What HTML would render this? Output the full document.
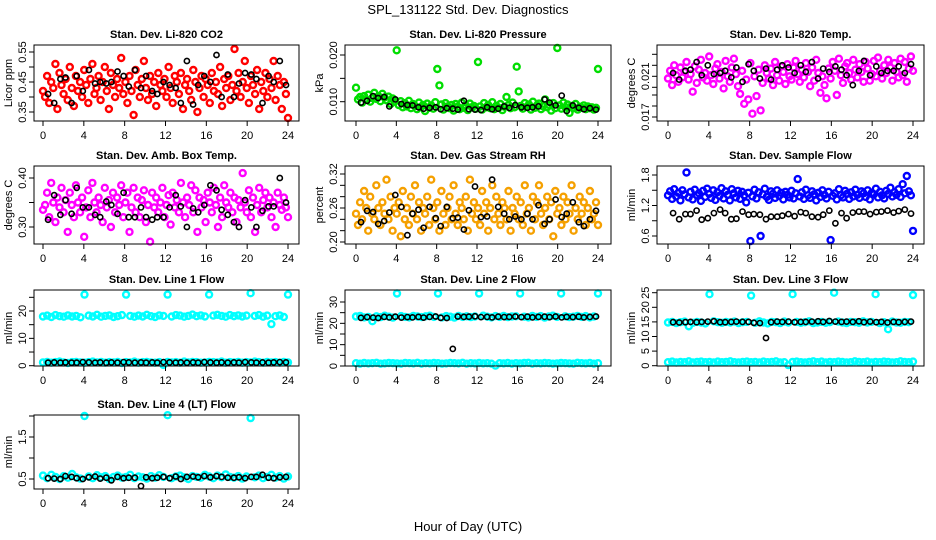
<!DOCTYPE html>
<html><head><meta charset="utf-8"><style>
html,body{margin:0;padding:0;background:#fff;}
svg{display:block;font-family:"Liberation Sans",sans-serif;}
</style></head><body>
<svg id="chart" width="936" height="540" viewBox="0 0 936 540">
<text x="468" y="14" text-anchor="middle" font-size="13">SPL_131122  Std. Dev. Diagnostics</text>
<text x="468" y="531" text-anchor="middle" font-size="13">Hour of Day (UTC)</text>
</svg>
<script>
// ---- data ----
const blackHours=[0.5,1.1,1.7,2.2,2.8,3.3,3.9,4.5,5.1,5.6,6.2,6.7,7.3,7.9,8.4,9.0,9.6,10.1,10.7,11.2,11.8,12.4,13.0,13.5,14.1,14.7,15.2,15.8,16.4,17.0,17.5,18.1,18.7,19.2,19.8,20.4,20.9,21.5,22.1,22.6,23.2,23.8];
const xTicks=[0,4,8,12,16,20,24];

const co2Dense=[0.42,0.40,0.47,0.38,0.45,0.43,0.51,0.36,0.48,0.44,0.41,0.46,0.39,0.50,0.43,0.37,0.47,0.42,0.45,0.40,
0.49,0.44,0.38,0.46,0.51,0.41,0.43,0.47,0.39,0.45,0.50,0.42,0.36,0.48,0.44,0.40,0.46,0.43,0.53,0.41,
0.45,0.38,0.47,0.42,0.34,0.49,0.44,0.40,0.46,0.52,0.43,0.39,0.47,0.41,0.45,0.37,0.48,0.44,0.42,0.46,
0.40,0.50,0.43,0.38,0.47,0.45,0.41,0.48,0.36,0.44,0.46,0.42,0.39,0.49,0.45,0.35,0.43,0.47,0.40,0.46,
0.44,0.38,0.48,0.42,0.45,0.41,0.50,0.37,0.46,0.43,0.47,0.39,0.44,0.56,0.42,0.48,0.40,0.45,0.52,0.43,
0.38,0.47,0.44,0.41,0.49,0.36,0.45,0.42,0.48,0.40,0.46,0.43,0.52,0.39,0.47,0.44,0.36,0.45,0.41,0.33];
const co2Black=[0.41,0.38,0.46,0.465,0.38,0.47,0.42,0.49,0.445,0.45,0.445,0.45,0.485,0.47,0.435,0.49,0.43,0.47,0.42,0.41,0.45,0.44,0.43,0.38,0.52,0.375,0.44,0.47,0.45,0.54,0.40,0.475,0.40,0.445,0.48,0.475,0.46,0.38,0.47,0.45,0.52,0.44];

const presDense=[0.0130,0.0105,0.0110,0.0098,0.0112,0.0104,0.0115,0.0100,0.0108,0.0119,0.0106,0.0112,0.0101,0.0117,0.0109,0.0103,0.0111,0.0095,0.0107,0.0100,
0.0210,0.0093,0.0101,0.0088,0.0097,0.0090,0.0102,0.0086,0.0095,0.0091,0.0084,0.0098,0.0089,0.0093,0.0080,0.0096,0.0087,0.0092,0.0085,0.0099,
0.0170,0.0135,0.0094,0.0083,0.0097,0.0090,0.0086,0.0093,0.0081,0.0095,0.0089,0.0084,0.0098,0.0087,0.0092,0.0082,0.0096,0.0088,0.0091,0.0085,
0.0185,0.0090,0.0083,0.0097,0.0088,0.0093,0.0086,0.0099,0.0084,0.0091,0.0087,0.0095,0.0082,0.0089,0.0110,0.0093,0.0086,0.0098,0.0088,0.0175,
0.0122,0.0091,0.0085,0.0097,0.0089,0.0094,0.0083,0.0100,0.0087,0.0092,0.0096,0.0084,0.0090,0.0105,0.0088,0.0093,0.0081,0.0097,0.0086,0.0215,
0.0092,0.0085,0.0098,0.0088,0.0094,0.0076,0.0091,0.0086,0.0095,0.0083,0.0089,0.0087,0.0092,0.0084,0.0090,0.0086,0.0088,0.0083,0.0087,0.0170];
const presBlack=[0.0098,0.0102,0.0112,0.0108,0.0110,0.0090,0.0105,0.0095,0.0093,0.0092,0.0088,0.0085,0.0087,0.0088,0.0084,0.0086,0.0085,0.0083,0.0102,0.0084,0.0083,0.0082,0.0088,0.0084,0.0085,0.0090,0.0087,0.0093,0.0088,0.0087,0.0088,0.0090,0.0105,0.0098,0.0092,0.0113,0.0080,0.0092,0.0087,0.0084,0.0086,0.0083];

// Li-820 temperature in units of 0.001 degC
const tempDense=[20.8,21.5,20.2,22.0,21.1,20.5,21.8,20.9,21.4,22.3,20.7,21.2,19.6,21.9,20.4,21.6,22.5,20.9,21.3,20.6,
22.8,21.1,20.3,21.7,22.1,20.8,21.4,19.9,22.4,21.0,20.5,21.8,22.6,21.2,20.1,19.4,21.5,18.5,20.7,18.9,
22.2,17.6,21.0,19.2,21.6,17.9,20.4,22.0,21.3,20.8,21.7,20.2,22.3,21.1,20.6,21.9,21.4,20.3,22.1,21.0,
20.7,21.8,22.4,21.2,20.5,21.6,20.9,22.2,21.4,20.1,21.8,20.6,22.5,21.3,19.5,21.0,20.2,19.0,21.7,20.8,
22.3,21.5,19.3,22.6,21.1,20.4,21.9,22.2,21.3,20.7,22.5,21.6,20.9,22.1,21.4,20.5,22.3,21.7,20.6,21.2,
22.4,21.0,22.7,21.5,20.8,22.0,21.3,22.5,21.8,20.6,22.2,21.4,20.9,22.6,21.1,22.3,20.5,21.7,22.8,21.5];
const tempBlack=[21.3,20.7,21.5,21.6,22.3,21.1,22.0,21.2,21.3,21.5,20.9,21.8,20.5,22.1,21.5,20.8,21.7,20.7,21.6,22.0,21.8,21.3,22.0,21.4,22.3,20.8,21.7,21.4,21.9,21.6,21.1,20.2,21.5,22.4,21.1,21.9,21.3,21.5,21.5,21.9,21.3,22.1];

const ambDense=[0.335,0.345,0.37,0.32,0.39,0.35,0.31,0.36,0.34,0.38,0.33,0.355,0.29,0.37,0.345,0.32,0.385,0.35,0.33,0.36,
0.28,0.34,0.375,0.32,0.39,0.35,0.33,0.36,0.345,0.31,0.38,0.34,0.355,0.30,0.37,0.33,0.36,0.345,0.385,0.32,
0.35,0.37,0.29,0.34,0.38,0.33,0.36,0.32,0.355,0.375,0.31,0.345,0.27,0.37,0.34,0.36,0.33,0.35,0.38,0.32,
0.345,0.365,0.305,0.37,0.34,0.355,0.33,0.39,0.35,0.32,0.36,0.345,0.385,0.33,0.375,0.29,0.36,0.34,0.355,0.31,
0.37,0.35,0.33,0.38,0.345,0.30,0.36,0.32,0.385,0.35,0.34,0.37,0.33,0.36,0.31,0.355,0.34,0.41,0.35,0.33,
0.375,0.32,0.36,0.29,0.345,0.38,0.33,0.355,0.37,0.34,0.36,0.32,0.35,0.30,0.37,0.345,0.335,0.36,0.34,0.32];
const ambBlack=[0.315,0.365,0.325,0.355,0.327,0.38,0.34,0.34,0.325,0.32,0.352,0.345,0.327,0.37,0.32,0.32,0.34,0.32,0.315,0.32,0.32,0.34,0.365,0.342,0.30,0.338,0.33,0.345,0.385,0.375,0.335,0.325,0.31,0.30,0.355,0.34,0.30,0.333,0.342,0.342,0.40,0.35];

const rhDense=[0.25,0.23,0.27,0.24,0.29,0.26,0.22,0.28,0.25,0.24,0.30,0.26,0.23,0.27,0.25,0.31,0.24,0.28,0.22,0.26,
0.25,0.27,0.21,0.29,0.24,0.26,0.23,0.28,0.25,0.30,0.24,0.27,0.22,0.26,0.25,0.28,0.23,0.31,0.26,0.24,
0.27,0.22,0.29,0.25,0.23,0.26,0.28,0.24,0.30,0.25,0.23,0.27,0.26,0.24,0.28,0.22,0.31,0.25,0.27,0.24,
0.26,0.23,0.29,0.25,0.27,0.22,0.26,0.30,0.24,0.28,0.25,0.23,0.27,0.26,0.24,0.29,0.22,0.26,0.25,0.28,
0.24,0.27,0.23,0.30,0.25,0.26,0.22,0.28,0.24,0.27,0.30,0.25,0.23,0.26,0.28,0.24,0.27,0.21,0.29,0.25,
0.26,0.23,0.28,0.24,0.27,0.25,0.30,0.22,0.26,0.24,0.28,0.25,0.27,0.23,0.26,0.29,0.24,0.25,0.27,0.23];
const rhBlack=[0.235,0.255,0.253,0.232,0.237,0.252,0.283,0.262,0.212,0.25,0.257,0.225,0.262,0.242,0.228,0.262,0.242,0.243,0.222,0.256,0.298,0.244,0.245,0.31,0.262,0.25,0.24,0.245,0.24,0.25,0.24,0.265,0.232,0.24,0.275,0.244,0.25,0.27,0.235,0.228,0.24,0.255];

const flowDense=[1.40,1.48,1.33,1.52,1.38,1.45,1.30,1.50,1.42,1.85,1.36,1.47,1.32,1.51,1.40,1.44,1.29,1.49,1.37,1.53,
1.43,1.35,1.50,1.31,1.46,1.39,1.54,1.34,1.48,1.41,1.30,1.52,1.44,1.36,1.49,1.33,1.47,1.40,1.26,1.45,
0.50,1.38,1.51,1.34,1.46,0.60,1.42,1.53,1.37,1.31,1.48,1.43,1.35,1.50,1.39,1.45,1.32,1.47,1.41,1.36,
1.49,1.34,1.44,1.72,1.38,1.46,1.33,1.51,1.40,1.35,1.48,1.42,1.30,1.45,1.37,1.50,1.41,1.34,1.47,0.52,
1.39,1.44,1.32,1.52,1.40,1.36,1.49,1.43,1.33,1.46,1.38,1.51,1.41,1.35,1.48,1.44,1.37,1.50,1.32,1.45,
1.42,1.53,1.36,1.47,1.40,1.34,1.49,1.43,1.55,1.38,1.46,1.41,1.52,1.37,1.62,1.44,1.78,1.48,1.40,0.70];
const flowBlack=[1.05,0.93,1.03,1.03,1.10,0.92,0.95,1.05,1.12,1.05,0.93,0.94,1.08,1.02,1.03,1.02,0.93,0.98,0.98,1.00,1.03,0.99,1.07,1.05,0.98,0.97,1.02,1.10,0.85,1.05,0.95,1.06,1.08,1.08,1.03,1.07,1.08,1.10,1.06,1.09,1.12,1.04];

const line1Upper=[18.0,18.3,17.8,18.5,18.1,17.9,18.4,18.0,18.2,17.7,26.0,18.3,18.0,18.6,17.9,18.2,18.4,17.8,18.1,18.5,26.0,18.2,17.9,18.3,18.0,18.6,18.1,17.8,18.4,18.2,26.0,18.0,18.5,18.3,17.9,18.2,18.7,18.1,18.4,18.0,26.0,18.3,18.6,18.2,17.9,18.5,18.1,18.4,18.0,18.3,26.5,18.2,18.5,17.9,18.3,15.2,18.1,18.4,17.8,26.0];
const line1Lower=[1.2,1.4,1.1,1.3,1.5,1.2,1.0,1.3,1.4,1.2,1.1,1.3,1.5,1.2,1.4,1.1,1.3,1.2,1.4,1.0,1.3,1.2,1.5,1.1,1.3,1.4,1.2,1.1,1.3,0.3,1.4,1.2,1.3,1.1,1.5,1.2,1.4,1.3,1.1,1.2,1.4,1.3,1.2,1.5,1.1,1.3,1.2,1.4,1.1,1.3,1.2,1.5,1.3,1.1,1.4,1.2,1.3,1.1,1.4,1.2];
const line1Black=[1.1,1.2,1.1,1.2,1.1,1.1,1.3,1.2,1.1,1.2,1.1,1.2,1.1,1.3,1.2,1.1,1.2,1.1,1.2,1.1,1.3,1.2,1.1,1.2,1.1,1.2,1.1,1.3,1.2,1.1,1.2,1.1,1.2,1.1,1.3,1.2,1.1,1.2,1.1,1.2,1.3,1.2];

const line2Upper=[23.2,23.5,22.8,23.0,21.0,23.3,22.9,23.6,23.1,22.7,34.0,23.4,23.0,22.8,23.5,23.2,22.9,23.3,23.6,23.0,34.0,22.8,23.4,23.1,22.7,23.5,23.0,23.3,22.9,23.2,34.0,23.6,23.1,22.8,23.4,23.0,23.5,22.9,23.2,23.3,34.0,23.1,22.8,23.5,23.0,23.4,22.7,23.2,23.6,23.0,34.0,23.3,22.9,23.1,23.5,23.0,23.4,22.8,23.2,34.0];
const line2Lower=[1.3,1.1,1.4,1.2,1.3,1.5,1.1,1.2,1.4,1.3,1.2,1.1,1.4,1.3,1.2,1.5,1.1,1.3,1.2,1.4,1.3,1.1,1.2,1.4,1.3,1.2,1.5,1.1,1.3,1.2,1.4,1.2,1.3,1.1,0.2,1.3,1.2,1.4,1.1,1.3,1.2,1.4,1.5,1.1,1.3,1.2,1.4,1.3,1.1,1.2,1.4,1.3,1.2,1.1,1.5,1.3,1.2,1.4,1.1,1.3];
const line2Black=[22.6,22.9,22.7,22.5,23.0,22.8,23.1,22.7,22.9,22.8,23.0,22.7,23.0,23.2,22.6,22.5,8.0,23.2,23.0,23.1,23.3,22.9,23.0,22.8,23.1,22.9,23.0,23.2,22.9,23.1,22.8,23.0,23.1,22.9,23.2,22.8,23.0,22.9,23.1,22.8,23.0,23.2];

const line3Upper=[14.8,15.0,14.6,14.9,15.1,13.5,14.7,15.0,14.8,14.5,24.5,15.2,14.9,14.7,15.0,14.8,15.1,14.6,14.9,15.0,24.0,14.7,15.2,14.8,14.5,15.0,14.9,14.6,15.1,14.8,24.5,15.0,14.7,14.9,15.2,14.6,14.8,15.0,14.7,14.9,25.0,15.1,14.8,14.6,15.0,14.9,14.7,15.2,14.8,15.0,24.5,14.6,14.9,12.5,15.1,14.8,14.7,15.0,14.9,24.2];
const line3Lower=[1.2,1.4,1.1,1.3,1.2,1.5,1.1,1.3,1.4,1.2,1.3,1.1,1.4,1.2,1.3,1.5,1.2,1.1,1.3,1.4,1.2,1.3,1.1,1.4,1.2,1.3,1.5,1.1,1.2,0.2,1.3,1.4,1.2,1.1,1.3,1.5,1.2,1.4,1.1,1.3,1.2,1.4,1.3,1.1,1.2,1.5,1.3,1.2,1.4,1.1,1.3,1.2,1.4,1.3,1.1,1.2,1.5,1.3,1.2,1.4];
const line3Black=[14.9,14.8,14.9,15.0,14.9,15.0,15.1,15.2,14.9,14.9,15.0,15.1,15.0,15.0,14.7,14.6,9.5,14.9,15.1,15.0,15.1,14.9,15.0,15.0,15.1,15.2,15.0,15.3,15.1,15.0,15.1,15.0,15.2,14.9,15.1,14.9,15.0,14.8,15.0,14.9,15.0,15.1];

const line4Cyan=[0.58,0.52,0.60,0.55,0.50,0.57,0.53,0.62,0.54,0.51,2.0,0.56,0.52,0.59,0.54,0.57,0.50,0.55,0.58,0.53,0.55,0.60,0.52,0.56,0.54,0.51,0.57,0.53,0.59,0.55,2.02,0.52,0.56,0.58,0.54,0.50,0.57,0.55,0.53,0.60,0.56,0.52,0.58,0.54,0.61,0.55,0.53,0.57,0.51,0.56,1.95,0.54,0.58,0.52,0.55,0.60,0.53,0.57,0.51,0.56];
const line4Black=[0.52,0.51,0.50,0.57,0.55,0.52,0.50,0.54,0.56,0.51,0.53,0.47,0.55,0.52,0.53,0.53,0.33,0.54,0.52,0.53,0.55,0.52,0.56,0.50,0.55,0.56,0.54,0.57,0.54,0.57,0.55,0.53,0.53,0.54,0.52,0.55,0.55,0.60,0.53,0.52,0.54,0.55];

// ---- layout ----
const svg=document.getElementById('chart');
const NS='http://www.w3.org/2000/svg';
const cols=[{bx:34,bw:265,x0:43,x24:288},{bx:345,bw:266,x0:356,x24:598},{bx:657,bw:267,x0:668,x24:913}];
const rows=[{top:45,bot:121},{top:166,bot:244},{top:290,bot:366},{top:415,bot:489}];

function mk(tag,attrs,parent){const e=document.createElementNS(NS,tag);for(const k in attrs)e.setAttribute(k,attrs[k]);(parent||svg).appendChild(e);return e;}

const panels=[
 {name:'li820-co2',title:'Stan. Dev. Li-820 CO2',yl:'Licor ppm',c:0,r:0,ref:[0.35,112,0.55,52],ticks:[0.35,0.40,0.45,0.50,0.55],labs:['0.35','','0.45','','0.55'],series:[{d:co2Dense,col:'#ff0000'}],black:co2Black},
 {name:'li820-pressure',title:'Stan. Dev. Li-820 Pressure',yl:'kPa',c:1,r:0,ref:[0.010,101.7,0.020,55],ticks:[0.010,0.015,0.020],labs:['0.010','','0.020'],series:[{d:presDense,col:'#00dd00'}],black:presBlack},
 {name:'li820-temp',title:'Stan. Dev. Li-820 Temp.',yl:'degrees C',c:2,r:0,ref:[21,76.3,22,65.3],ticks:[17.3,18.3,19.3,20,21,22,23],labs:['0.017','','','','0.021','',''],series:[{d:tempDense,col:'#ff00ff'}],black:tempBlack},
 {name:'amb-box-temp',title:'Stan. Dev. Amb. Box Temp.',yl:'degrees C',c:0,r:1,ref:[0.30,227,0.40,178],ticks:[0.30,0.35,0.40],labs:['0.30','','0.40'],series:[{d:ambDense,col:'#ff00ff'}],black:ambBlack},
 {name:'gas-stream-rh',title:'Stan. Dev. Gas Stream RH',yl:'percent',c:1,r:1,ref:[0.20,242,0.32,174],ticks:[0.20,0.22,0.24,0.26,0.28,0.30,0.32],labs:['0.20','','','0.26','','','0.32'],series:[{d:rhDense,col:'#f5a000'}],black:rhBlack},
 {name:'sample-flow',title:'Stan. Dev. Sample Flow',yl:'ml/min',c:2,r:1,ref:[0.6,236,1.8,175],ticks:[0.6,0.9,1.2,1.5,1.8],labs:['0.6','','1.2','','1.8'],series:[{d:flowDense,col:'#0000ff'}],black:flowBlack},
 {name:'line1-flow',title:'Stan. Dev. Line 1 Flow',yl:'ml/min',c:0,r:2,ref:[0,365.7,20,311],ticks:[0,5,10,15,20,25],labs:['0','','10','','20',''],series:[{d:line1Upper,col:'#00ffff'},{d:line1Lower,col:'#00ffff'}],black:line1Black},
 {name:'line2-flow',title:'Stan. Dev. Line 2 Flow',yl:'ml/min',c:1,r:2,ref:[0,366,30,302],ticks:[0,5,10,15,20,25,30],labs:['0','','10','','20','','30'],series:[{d:line2Upper,col:'#00ffff'},{d:line2Lower,col:'#00ffff'}],black:line2Black},
 {name:'line3-flow',title:'Stan. Dev. Line 3 Flow',yl:'ml/min',c:2,r:2,ref:[0,365.7,25,292.7],ticks:[0,5,10,15,20,25],labs:['0','5','10','15','20','25'],series:[{d:line3Upper,col:'#00ffff'},{d:line3Lower,col:'#00ffff'}],black:line3Black},
 {name:'line4-flow',title:'Stan. Dev. Line 4 (LT) Flow',yl:'ml/min',c:0,r:3,ref:[0.5,479,1.5,437],ticks:[0.5,1.0,1.5,2.0],labs:['0.5','','1.5',''],series:[{d:line4Cyan,col:'#00ffff'}],black:line4Black}
];

panels.forEach(p=>{
  const C=cols[p.c],R=rows[p.r];
  const g=mk('g',{});
  
  
  const xs=h=>C.x0+(C.x24-C.x0)*h/24;
  const ys=v=>p.ref[1]+(v-p.ref[0])*(p.ref[3]-p.ref[1])/(p.ref[2]-p.ref[0]);
  const t=mk('text',{x:C.bx+C.bw/2,y:R.top-7,'text-anchor':'middle','font-size':'11','font-weight':'bold'},g);
  t.textContent=p.title;
  
  
  const pg=mk('g',{fill:'none'},g);
  
  
  p.series.forEach(s=>{
    const n=s.d.length;
    s.d.forEach((v,i)=>{
      const c=mk('circle',{cx:xs(i*24/(n-1)).toFixed(1),cy:ys(v).toFixed(1),r:3,stroke:s.col,'stroke-width':2.4},pg);
      
      
    });
  });
  p.black.forEach((v,i)=>{
    const c=mk('circle',{cx:xs(blackHours[i]).toFixed(1),cy:ys(v).toFixed(1),r:2.6,stroke:'#000','stroke-width':1.6},pg);
    
    
  });
  const b=mk('rect',{x:C.bx,y:R.top,width:C.bw,height:R.bot-R.top,fill:'none',stroke:'#000','stroke-width':1},g);
  
  
  const xa=mk('g',{},g);
  
  
  mk('line',{x1:xs(0),x2:xs(24),y1:R.bot,y2:R.bot,stroke:'#000'},xa);
  xTicks.forEach(h=>{
    mk('line',{x1:xs(h),x2:xs(h),y1:R.bot,y2:R.bot+5,stroke:'#000'},xa);
    const tl=mk('text',{x:xs(h),y:R.bot+18,'text-anchor':'middle','font-size':'11'},xa);
    tl.textContent=h;
    
    
  });
  const ya=mk('g',{},g);
  
  
  p.ticks.forEach((v,i)=>{
    const y=ys(v);
    mk('line',{x1:C.bx-5,x2:C.bx,y1:y,y2:y,stroke:'#000'},ya);
    if(p.labs[i]){
      const tl=mk('text',{x:0,y:0,'text-anchor':'middle','font-size':'11',transform:`translate(${C.bx-8},${y}) rotate(-90)`},ya);
      tl.textContent=p.labs[i];
      
      
    }
  });
  const yt=mk('text',{x:0,y:0,'text-anchor':'middle','font-size':'11',transform:`translate(${C.bx-22},${(R.top+R.bot)/2}) rotate(-90)`},g);
  yt.textContent=p.yl;
  
  
});
</script>
</body></html>
